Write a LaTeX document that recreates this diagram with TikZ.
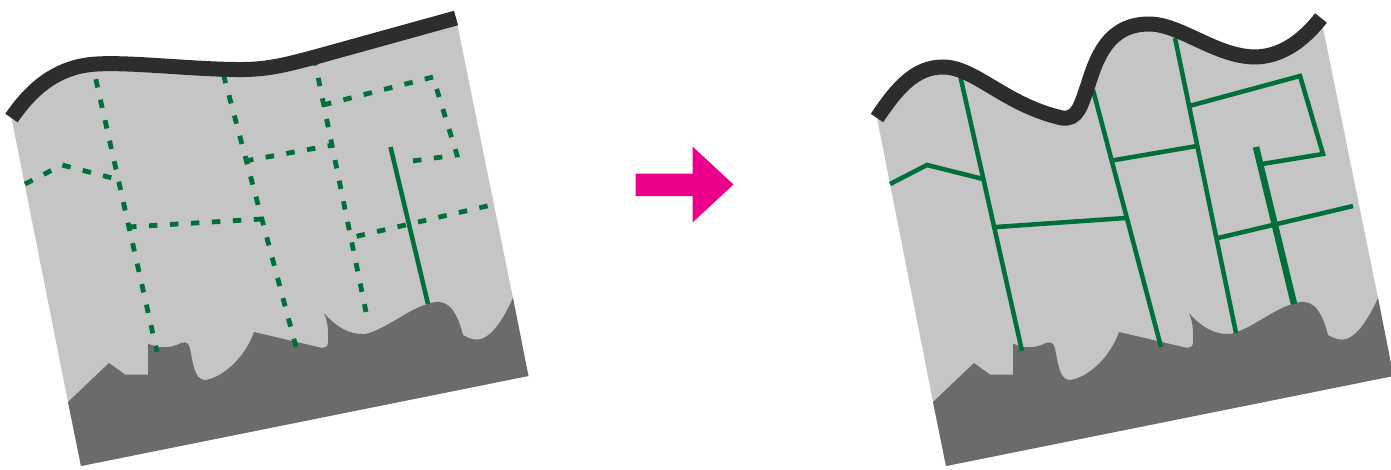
\documentclass[tikz,border=0pt]{standalone}
\usepackage{xcolor}
\usetikzlibrary{arrows}

\definecolor{soilgrey}{HTML}{C5C5C5}
\definecolor{rockgrey}{HTML}{6B6B6B}
\definecolor{topblack}{HTML}{2D2D2D}
\definecolor{crackgreen}{HTML}{006F3A}
\definecolor{arrowpink}{HTML}{EC008C}

\begin{document}
\begin{tikzpicture}[
    x=1pt, y=-1pt,
    soil/.style={fill=soilgrey},
    rock/.style={fill=rockgrey},
    surface/.style={draw=topblack, line width=15pt},
    crack/.style={draw=crackgreen, line width=4.5pt, line join=miter},
    opencrack/.style={crack, line width=4.8pt, dash pattern=on 8.5pt off 12.5pt},
    mainfault/.style={draw=crackgreen, line width=6.5pt}
]
\useasboundingbox (0,0) rectangle (1391,469);

% Top surfaces
\def\surfleft{(11.5,118) .. controls (32,88) and (58,66) .. (97,64)
  .. controls (130,62) and (190,69) .. (235,69.5)
  .. controls (265,70) and (282,66) .. (317,56.5) -- (456,18)}
\def\surfright{(877,118) .. controls (897,88) and (915,67) .. (943,67)
  .. controls (975,67) and (1005,105) .. (1062,118)
  .. controls (1078,120) and (1081,105) .. (1088,85)
  .. controls (1096,60) and (1107,24) .. (1149,24)
  .. controls (1180,24) and (1215,56) .. (1254,57)
  .. controls (1280,57) and (1302,42) .. (1321,18)}

% Rock at the bottom, same outline in both panels
\def\rockshape{
  \fill[rock] (68,402) -- (109,363) -- (125,374.5) -- (148,374.5) -- (148,343.5)
    .. controls (158,349) and (172,348) .. (181,343)
    .. controls (187,341) and (189,344) .. (190,349)
    .. controls (193,362) and (194,380) .. (205,380)
    .. controls (222,378) and (245,358) .. (254,332)
    -- (318,347)
    .. controls (326,349) and (329,348) .. (328,335)
    .. controls (328,326) and (327,320) .. (324,313)
    .. controls (336,327) and (350,335) .. (365,334)
    .. controls (385,330) and (410,308) .. (428,304)
    .. controls (444,298) and (455,304) .. (463,335)
    .. controls (475,342) and (490,348) .. (513,298)
    -- (528.5,376) -- (81,466) -- cycle;
}

% Left panel
\fill[soil] \surfleft -- (513,298) -- (528,376) -- (81,466) -- (68,402) -- cycle;
\rockshape
\draw[opencrack] (95.8,79.2) -- (157,352);
\draw[opencrack] (223.5,74.9) -- (296,347);
\draw[opencrack] (314,57.2) -- (366,312);
\draw[opencrack] (25,184) -- (62,165) -- (116,179);
\draw[opencrack] (128,227) -- (262,219);
\draw[opencrack] (245,161) -- (333,145);
\draw[opencrack] (323,105) -- (433,77) -- (457,155) -- (412,161);
\draw[opencrack] (356.6,236.3) -- (488,205.8);
\draw[crack] (390.5,147) -- (428,304);
\draw[surface] \surfleft;

% Arrow
\fill[arrowpink] (635.5,173.5) -- (692.7,173.5) -- (692.7,146.7) -- (733.5,184.5)
  -- (692.7,222.3) -- (692.7,196) -- (635.5,196) -- cycle;

% Right panel
\fill[soil] \surfright -- (1378,298) -- (1393,376) -- (946,466) -- (933,402) -- cycle;
\begin{scope}[shift={(865,0)}]
\rockshape
\end{scope}
\draw[crack] (960,75) -- (1022,351);
\draw[crack] (1093,90) -- (1161,347);
\draw[crack] (1175,38) -- (1236,333);
\draw[crack] (890,184) -- (927,165) -- (983,179);
\draw[crack] (996,227) -- (1126,218);
\draw[crack] (1112,160.5) -- (1197,146);
\draw[crack] (1191,105.5) -- (1300,76) -- (1323,154) -- (1262,164);
\draw[crack] (1218,238) -- (1353,206);
\draw[mainfault] (1256,147) -- (1294,304);
\draw[surface] \surfright;

\end{tikzpicture}
\end{document}
